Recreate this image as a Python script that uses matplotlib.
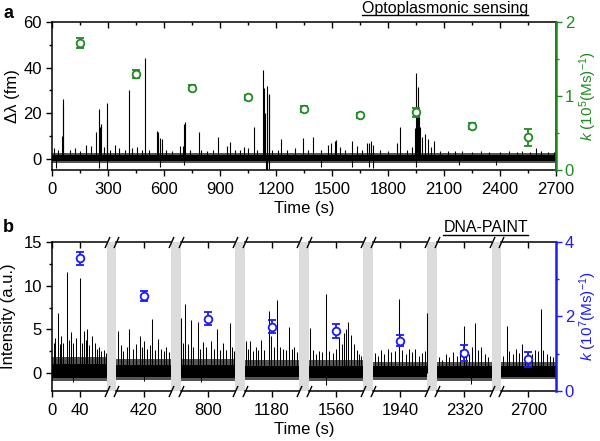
import numpy as np
import matplotlib
matplotlib.use("Agg")
import matplotlib.pyplot as plt
from matplotlib.lines import Line2D

plt.rcParams['font.family'] = ['Liberation Sans', 'DejaVu Sans']
plt.rcParams['mathtext.fontset'] = 'custom'
plt.rcParams['mathtext.rm'] = 'Liberation Sans'
plt.rcParams['mathtext.it'] = 'Liberation Sans:italic'

# ---------------- data: panel a (optoplasmonic) ----------------
a_k_time = [150, 450, 750, 1050, 1350, 1650, 1950, 2250, 2550]
a_k_val = [1.72, 1.30, 1.11, 0.98, 0.82, 0.74, 0.78, 0.60, 0.44]
a_k_err = [0.065, 0.05, 0.035, 0.036, 0.04, 0.035, 0.06, 0.04, 0.115]

a_spike_t = [8, 30, 52, 55, 60, 95, 120, 150, 181, 205, 236, 249, 256, 262, 275, 292, 295,
             310, 334, 360, 390, 411, 430, 455, 480, 497, 520, 560, 569, 575, 590, 610, 640,
             685, 700, 705, 710, 740, 787, 800, 830, 860, 891, 935, 953, 980, 1005, 1028,
             1050, 1082, 1100, 1132, 1136, 1140, 1153, 1160, 1164, 1180, 1210, 1227, 1260,
             1300, 1347, 1370, 1400, 1440, 1477, 1494, 1514, 1520, 1543, 1570, 1606, 1632,
             1660, 1690, 1701, 1710, 1720, 1760, 1800, 1848, 1867, 1900, 1930, 1945, 1953,
             1958, 1964, 1968, 1974, 1985, 2001, 2016, 2030, 2048, 2080, 2120, 2160, 2200,
             2250, 2300, 2340, 2400, 2450, 2490, 2520, 2560, 2595, 2620, 2660, 2690]
a_spike_h = [4.5, 3.8, 10, 23, 26, 4, 4.5, 3.5, 6, 5.5, 11.6, 21.7, 14, 15, 5, 24.5, 17,
             4, 6, 4.5, 4, 30, 4.5, 5, 4, 44, 4, 12.3, 11.5, 9, 8.5, 4, 3.5,
             5.5, 5.6, 15, 16, 4, 11.5, 4, 3.5, 4, 9.5, 5.5, 7.2, 4, 4, 5,
             4.5, 14, 4, 38.7, 31, 20, 31.8, 28, 28.2, 4, 4, 8.7, 4,
             4.5, 8.9, 4, 9.3, 4, 6, 7, 7.8, 8.3, 5, 4, 7.8, 5.5,
             4, 6.8, 7, 7.8, 5.8, 4, 3.5, 7, 13.8, 4, 5, 13.4, 37.4,
             20, 31.6, 19.5, 14, 9.3, 11, 8.5, 5, 7.8, 3.5, 3.5, 3.5, 3.5,
             3, 3.5, 3, 3, 3.5, 3, 3.5, 3, 4.8, 3.5, 3, 3]
a_dip_t = [20, 250, 295, 575, 705, 1145, 1150, 1160, 1440, 1610, 1700, 1720, 1950, 2180, 2380]
a_dip_h = [-4, -4, -4.5, -3.5, -3, -5, -5, -4.5, -3.5, -3.5, -3.5, -4, -3.5, -3, -3]
a_band_core = [-1.2, 1.5]
a_band_fringe = [-2.1, 2.6]

# ---------------- data: panel b (DNA-PAINT) ----------------
b_seg_start = [0, 380, 760, 1140, 1520, 1900, 2280, 2660]
b_seg_len = 80
b_ticks = [0, 40, 420, 800, 1180, 1560, 1940, 2320, 2700]
b_k_time = [40, 420, 800, 1180, 1560, 1940, 2320, 2700]
b_k_val = [3.56, 2.55, 1.94, 1.72, 1.60, 1.34, 1.02, 0.84]
b_k_err = [0.18, 0.14, 0.18, 0.17, 0.19, 0.15, 0.21, 0.19]

b_spike_t = [2, 4, 8.8, 11, 13, 16, 21, 24, 28, 31, 35, 40.5, 43, 46, 49, 51, 54, 58, 62, 65, 68, 72, 75, 78,
             383, 386, 390, 395, 399, 404, 408, 414, 418, 421, 425, 429, 432, 436, 441, 445, 449, 453, 457,
             761, 764, 767, 771, 775, 779, 785, 789, 793, 798, 805, 809, 813, 818, 822, 827, 832, 835, 838,
             1142, 1145, 1148, 1152, 1156, 1160, 1164, 1168, 1175, 1178, 1183, 1188, 1192, 1196, 1200, 1205, 1209, 1213, 1217,
             1522, 1526, 1530, 1535, 1540, 1545, 1550, 1555, 1560, 1564, 1568, 1571, 1574, 1578, 1582, 1586, 1590, 1594, 1597,
             1903, 1908, 1912, 1917, 1922, 1927, 1932, 1939, 1943, 1948, 1953, 1958, 1962, 1967, 1972, 1976, 1979,
             2283, 2288, 2293, 2298, 2304, 2309, 2314, 2319, 2323, 2327, 2331, 2336, 2340, 2345, 2350, 2355,
             2663, 2668, 2672, 2677, 2682, 2686, 2690, 2695, 2700, 2705, 2710, 2714, 2718, 2722, 2727, 2732, 2736]
b_spike_h = [3.5, 4, 6.9, 3.3, 4.3, 3.5, 11.6, 3.8, 4.7, 3.5, 4, 10.9, 3.5, 4.8, 3.8, 5.0, 3.2, 4.2, 3.5, 2.8, 3, 2.5, 2.6, 2.3,
             4.8, 3.2, 2.5, 3, 5.0, 2.8, 3.3, 4.2, 3, 3.7, 2.8, 3.2, 6.2, 2.6, 3.9, 2.8, 2.5, 3, 2.4,
             6.3, 3.5, 7.9, 3.3, 6.1, 3, 5.9, 2.8, 3.6, 3, 3.7, 2.8, 5.0, 2.7, 3.4, 2.6, 5.7, 3, 2.5,
             3.7, 2.8, 3.7, 2.5, 3, 2.6, 3.8, 2.7, 7.1, 4.2, 3, 8.4, 3, 2.8, 2.6, 5.3, 2.8, 3, 2.4,
             5.2, 2.6, 2.2, 2.5, 2.4, 9.0, 2.5, 2.3, 2.8, 4, 3.3, 4.6, 5.1, 5.9, 4.4, 3.3, 2.6, 2.2, 2.0,
             2.3, 2, 2.6, 2.2, 2.8, 2.4, 2.5, 8.5, 2.6, 2.2, 2.8, 2.4, 2.8, 2, 2.3, 2.5, 6.9,
             1.8, 1.5, 2.2, 1.8, 2.4, 2.0, 2.6, 5.4, 2.8, 2.2, 3.0, 5.7, 2.6, 3.0, 2.2, 1.8,
             2, 5.4, 2.5, 2.2, 2.8, 2.3, 3.3, 2, 2.4, 2.2, 2.6, 2.5, 7.3, 2.6, 2.2, 2.0, 1.8]
b_dip_t = [30, 420, 790, 1545, 2330]
b_dip_h = [-1.0, -0.9, -1.0, -1.4, -1.2]
b_core_lo = [-0.5, -0.45, -0.5, -0.45, -0.5, -0.45, -0.5, -0.4]
b_core_hi = [1.0, 0.9, 0.9, 0.85, 0.85, 0.8, 0.8, 0.8]
b_fringe_lo = [-0.9, -0.8, -0.9, -0.8, -0.9, -0.8, -0.9, -0.7]
b_fringe_hi = [1.9, 1.6, 1.6, 1.5, 1.5, 1.3, 1.3, 1.3]

GREEN = '#1f8a1f'
BLUE = '#1a1aff'
GRAY = '#dcdcdc'
FS = 12

fig = plt.figure(figsize=(6.0, 4.41), dpi=100)
W, H = 600, 441

def fig_rect(l, t, r, b):
    return [l / W, 1 - b / H, (r - l) / W, (b - t) / H]

# ================= panel a =================
ax = fig.add_axes(fig_rect(52.3, 22, 555.7, 170))
ax.fill_between([0, 2700], a_band_fringe[0], a_band_fringe[1], color='#555555', lw=0, zorder=2)
ax.fill_between([0, 2700], a_band_core[0], a_band_core[1], color='black', lw=0, zorder=2.5)
ax.vlines(a_spike_t, 0, a_spike_h, color='black', lw=0.8, zorder=3)
ax.vlines(a_dip_t, 0, a_dip_h, color='black', lw=0.8, zorder=3)
ax.set_xlim(0, 2700)
ax.set_ylim(-5, 60)
ax.set_xticks(np.arange(0, 2701, 300))
ax.set_xticks(np.arange(150, 2700, 300), minor=True)
ax.set_yticks([0, 20, 40, 60])
ax.set_yticks([10, 30, 50], minor=True)
ax.tick_params(axis='x', which='both', bottom=True, top=True, direction='out', labelsize=FS, pad=4)
ax.tick_params(axis='y', which='both', left=True, right=False, direction='out', labelsize=FS, pad=3)
ax.tick_params(which='major', length=4.5, width=1.0)
ax.tick_params(which='minor', length=2.5, width=1.0)
for s in ax.spines.values():
    s.set_linewidth(1.1)
ax.set_xlabel('Time (s)', fontsize=FS, labelpad=3)
ax.set_ylabel('Δλ (fm)', fontsize=FS, labelpad=2)
for t in ax.xaxis.get_major_ticks() + ax.xaxis.get_minor_ticks():
    t.tick2line.set_marker(3)

axr = ax.twinx()
axr.errorbar(a_k_time, a_k_val, yerr=a_k_err, fmt='o', ms=5.5, mfc='white', mec=GREEN, mew=1.3,
             ecolor=GREEN, elinewidth=1.3, capsize=3, capthick=1.3, zorder=5)
axr.set_ylim(0, 2)
axr.set_yticks([0, 1, 2])
axr.set_yticks([0.5, 1.5], minor=True)
axr.tick_params(axis='y', which='both', colors=GREEN, direction='out', labelsize=FS, pad=2)
axr.tick_params(which='major', length=4.5, width=1.0)
axr.tick_params(which='minor', length=2.5, width=1.0)
axr.spines['right'].set_color(GREEN)
axr.spines['right'].set_linewidth(1.8)
for k in ['top', 'bottom', 'left']:
    axr.spines[k].set_visible(False)
axr.set_ylabel('$\\mathit{k}$ (10$^{5}$(Ms)$^{-1}$)', color=GREEN, fontsize=11)
axr.yaxis.set_label_coords((588 - 52.3) / 503.4, 0.5)
axr.yaxis.label.set_ha('center')
axr.yaxis.label.set_va('center')

# ================= panel b =================
g = 13.85
bp_real = [-1e4]
bp_comp = [-1e4]
for i, s in enumerate(b_seg_start):
    c0 = i * (b_seg_len + g)
    bp_real += [s, s + b_seg_len]
    bp_comp += [c0, c0 + b_seg_len]
bp_real.append(1e4)
bp_comp.append(bp_comp[-1] + (1e4 - bp_real[-2]))
bp_real = np.array(bp_real, float)
bp_comp = np.array(bp_comp, float)

def fwd(t):
    return np.interp(np.asarray(t, float), bp_real, bp_comp)

def inv(c):
    return np.interp(np.asarray(c, float), bp_comp, bp_real)

bx = fig.add_axes(fig_rect(52.3, 242, 555.7, 390.7))
bx.set_xscale('function', functions=(fwd, inv))
bx.set_xlim(0, b_seg_start[-1] + b_seg_len)
bx.set_ylim(-2, 15)
for i, s in enumerate(b_seg_start):
    bx.fill_between([s, s + b_seg_len], b_fringe_lo[i], b_fringe_hi[i], color='#555555', lw=0, zorder=2)
    bx.fill_between([s, s + b_seg_len], b_core_lo[i], b_core_hi[i], color='black', lw=0, zorder=2.5)
    if i < len(b_seg_start) - 1:
        bx.axvspan(s + b_seg_len, b_seg_start[i + 1], color=GRAY, lw=0, zorder=0)
bx.vlines(b_spike_t, 0, b_spike_h, color='black', lw=0.75, zorder=3)
bx.vlines(b_dip_t, 0, b_dip_h, color='black', lw=0.75, zorder=3)
bx.set_xticks(b_ticks)
bx.set_xticklabels([str(v) for v in b_ticks])
bx.set_xticks([], minor=True)
bx.set_yticks([0, 5, 10, 15])
bx.set_yticks([2.5, 7.5, 12.5], minor=True)
bx.tick_params(axis='x', which='both', bottom=True, top=True, direction='out', labelsize=FS, pad=4)
bx.tick_params(axis='y', which='both', left=True, right=False, direction='out', labelsize=FS, pad=3)
bx.tick_params(which='major', length=4.5, width=1.0)
bx.tick_params(which='minor', length=2.5, width=1.0)
for t in bx.xaxis.get_major_ticks():
    t.tick2line.set_marker(3)
bx.spines['top'].set_visible(False)
bx.spines['bottom'].set_visible(False)
bx.spines['left'].set_linewidth(1.1)
bx.spines['right'].set_visible(False)
bx.set_xlabel('Time (s)', fontsize=FS, labelpad=3)
bx.set_ylabel('Intensity (a.u.)', fontsize=FS, labelpad=5)

tr = bx.get_xaxis_transform()
for i, s in enumerate(b_seg_start):
    for yy in (0, 1):
        bx.plot([s, s + b_seg_len], [yy, yy], color='black', lw=1.1, transform=tr, clip_on=False, zorder=6)
    edges = []
    if i > 0:
        edges.append(s)
    if i < len(b_seg_start) - 1:
        edges.append(s + b_seg_len)
    for e in edges:
        bx.plot([e, e], [0, 1], transform=tr, ls='none', marker=[(-0.45, -1), (0.45, 1)],
                ms=8, mew=1.0, color='black', clip_on=False, zorder=7)

bxr = bx.twinx()
bxr.errorbar(b_k_time, b_k_val, yerr=b_k_err, fmt='o', ms=5.5, mfc='white', mec=BLUE, mew=1.3,
             ecolor=BLUE, elinewidth=1.3, capsize=3, capthick=1.3, zorder=5)
bxr.set_ylim(0, 4)
bxr.set_yticks([0, 2, 4])
bxr.set_yticks([1, 3], minor=True)
bxr.tick_params(axis='y', which='both', colors=BLUE, direction='out', labelsize=FS, pad=2)
bxr.tick_params(which='major', length=4.5, width=1.0)
bxr.tick_params(which='minor', length=2.5, width=1.0)
bxr.spines['right'].set_color(BLUE)
bxr.spines['right'].set_linewidth(1.8)
for k in ['top', 'bottom', 'left']:
    bxr.spines[k].set_visible(False)
bxr.set_ylabel('$\\mathit{k}$ (10$^{7}$(Ms)$^{-1}$)', color=BLUE, fontsize=11)
bxr.yaxis.set_label_coords((588 - 52.3) / 503.4, 0.5)
bxr.yaxis.label.set_ha('center')
bxr.yaxis.label.set_va('center')

# ================= texts =================
fig.text(3 / W, 1 - 13 / H, 'a', fontsize=13, fontweight='bold', va='center', ha='left')
fig.text(3 / W, 1 - 228 / H, 'b', fontsize=13, fontweight='bold', va='center', ha='left')
t1 = fig.text(528 / W, 1 - 8 / H, 'Optoplasmonic sensing', fontsize=11.5, ha='right', va='center')
t2 = fig.text(528 / W, 1 - 228 / H, 'DNA-PAINT', fontsize=11.5, ha='right', va='center')

fig.canvas.draw()
rend = fig.canvas.get_renderer()
for t, yline in ((t1, 14.5), (t2, 235)):
    bb = t.get_window_extent(rend)
    fig.add_artist(Line2D([bb.x0 / W, bb.x1 / W], [1 - yline / H, 1 - yline / H],
                          transform=fig.transFigure, color='black', lw=1.0))

fig.savefig('out.png', dpi=100)
